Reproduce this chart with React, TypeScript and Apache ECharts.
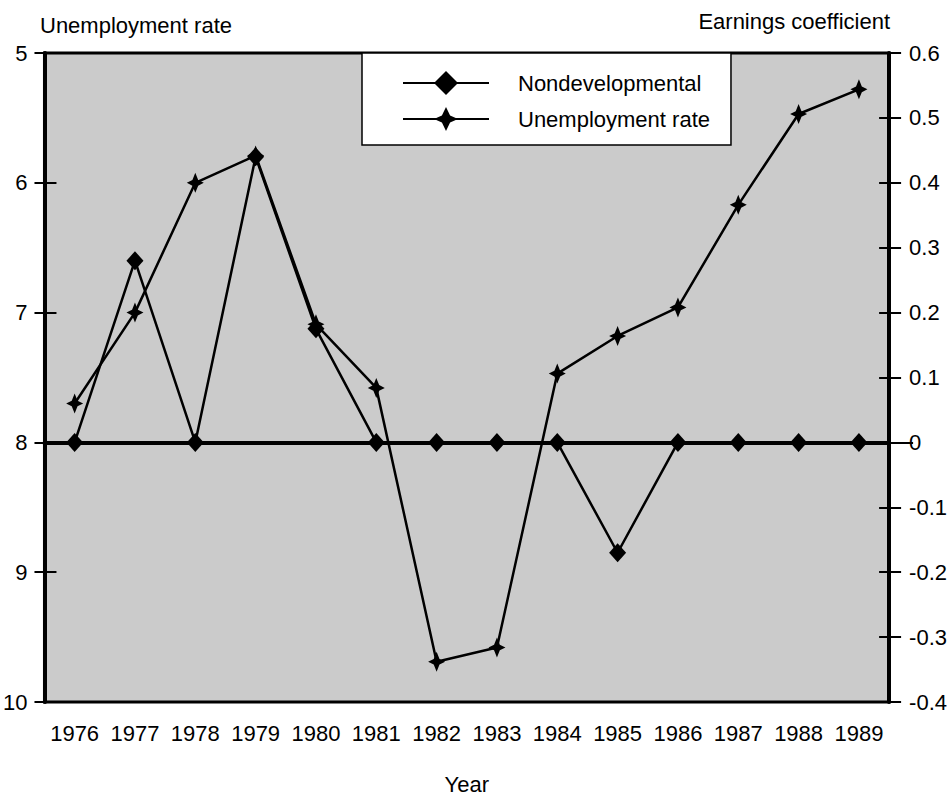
import React, { useEffect, useRef } from 'react';
import * as echarts from 'echarts';

const years = ['1976', '1977', '1978', '1979', '1980', '1981', '1982', '1983', '1984', '1985', '1986', '1987', '1988', '1989'];
const unemploymentRate = [7.7, 7.0, 6.0, 5.79, 7.09, 7.58, 9.69, 9.58, 7.47, 7.18, 6.96, 6.17, 5.47, 5.28];
const nondevelopmental = [0, 0.28, 0, 0.44, 0.175, 0, 0, 0, 0, -0.17, 0, 0, 0, 0];
const leftAxisRange = { min: 5, max: 10, interval: 1 };
const rightAxisRange = { min: -0.4, max: 0.6, interval: 0.1 };
const seriesNames = ['Nondevelopmental', 'Unemployment rate'];
const axisTitles = { left: 'Unemployment rate', right: 'Earnings coefficient', bottom: 'Year' };

const FONT = '"Liberation Sans", Arial, Helvetica, sans-serif';
const STAR = 'path://M0,-12 L3.4,-3.4 L10,0 L3.4,3.4 L0,12 L-3.4,3.4 L-10,0 L-3.4,-3.4 Z';

export default function App() {
  const ref = useRef<HTMLDivElement>(null);
  useEffect(() => {
    if (!ref.current) return;
    const chart = echarts.init(ref.current, null, { renderer: 'svg' });
    const labelStyle = { color: '#000', fontSize: 22, fontFamily: FONT };
    const noLine = { show: false };
    chart.setOption({
      animation: false,
      backgroundColor: '#fff',
      grid: {
        left: 43, right: 60, top: 53, bottom: 95,
        show: true, backgroundColor: '#cbcbcb', borderColor: '#000', borderWidth: 3,
      },
      graphic: [
        { type: 'text', left: 40, top: 14, style: { text: axisTitles.left, fill: '#000', font: `22px ${FONT}` } },
        { type: 'text', right: 60, top: 10, style: { text: axisTitles.right, fill: '#000', font: `22px ${FONT}` } },
      ],
      legend: {
        orient: 'vertical', left: 362, top: 53,
        itemWidth: 86, itemHeight: 30, itemGap: 12,
        padding: [18, 21, 14, 40],
        backgroundColor: '#fff', borderColor: '#000', borderWidth: 1.5,
        selectedMode: false,
        textStyle: { ...labelStyle, padding: [0, 0, 0, 24] },
        data: seriesNames,
      },
      xAxis: {
        type: 'category', data: years, boundaryGap: true,
        axisLine: { show: true, lineStyle: { color: '#000', width: 4 } },
        axisTick: { show: false },
        axisLabel: { ...labelStyle, margin: 20, interval: 0, hideOverlap: false },
        splitLine: { show: false },
        name: axisTitles.bottom, nameLocation: 'middle', nameGap: 71,
        nameTextStyle: labelStyle,
      },
      yAxis: [
        {
          type: 'value', position: 'left', inverse: true, ...leftAxisRange,
          axisLine: { show: true, lineStyle: { color: '#000', width: 4 } },
          axisTick: { show: true, inside: false, length: 10, lineStyle: { color: '#000', width: 2 } },
          axisLabel: { ...labelStyle, margin: 17 },
          splitLine: { show: false },
        },
        {
          type: 'value', position: 'right', ...rightAxisRange,
          axisLine: { show: true, lineStyle: { color: '#000', width: 4 } },
          axisTick: { show: true, inside: false, length: 12, lineStyle: { color: '#000', width: 2 } },
          axisLabel: { ...labelStyle, margin: 20 },
          splitLine: { show: false },
        },
        {
          type: 'value', position: 'left', inverse: true, ...leftAxisRange,
          axisLine: noLine,
          axisTick: { show: true, inside: true, length: 12, lineStyle: { color: '#000', width: 2 } },
          axisLabel: { show: false },
          splitLine: { show: false },
        },
        {
          type: 'value', position: 'right', ...rightAxisRange,
          axisLine: noLine,
          axisTick: { show: true, inside: true, length: 10, lineStyle: { color: '#000', width: 2 } },
          axisLabel: { show: false },
          splitLine: { show: false },
        },
        {
          type: 'value', position: 'right', ...rightAxisRange,
          axisLine: noLine,
          axisTick: { show: true, inside: false, length: 24, customValues: [0], lineStyle: { color: '#000', width: 2 } },
          axisLabel: { show: false },
          splitLine: { show: false },
        },
      ],
      series: [
        {
          name: seriesNames[0], type: 'line', yAxisIndex: 1, data: nondevelopmental,
          symbol: 'diamond', symbolSize: [17, 19],
          lineStyle: { color: '#000', width: 2.5 },
          itemStyle: { color: '#000' },
          z: 3,
          markLine: {
            silent: true, symbol: 'none', label: { show: false },
            lineStyle: { color: '#000', width: 2.5, type: 'solid' },
            data: [{ yAxis: 0 }],
          },
        },
        {
          name: seriesNames[1], type: 'line', yAxisIndex: 0, data: unemploymentRate,
          symbol: STAR, symbolSize: [17, 20],
          lineStyle: { color: '#000', width: 2.5 },
          itemStyle: { color: '#000' },
          z: 4,
        },
      ],
    });
    return () => chart.dispose();
  }, []);
  return <div ref={ref} style={{ position: 'fixed', left: 0, top: 0, width: 950, height: 800 }} />;
}
